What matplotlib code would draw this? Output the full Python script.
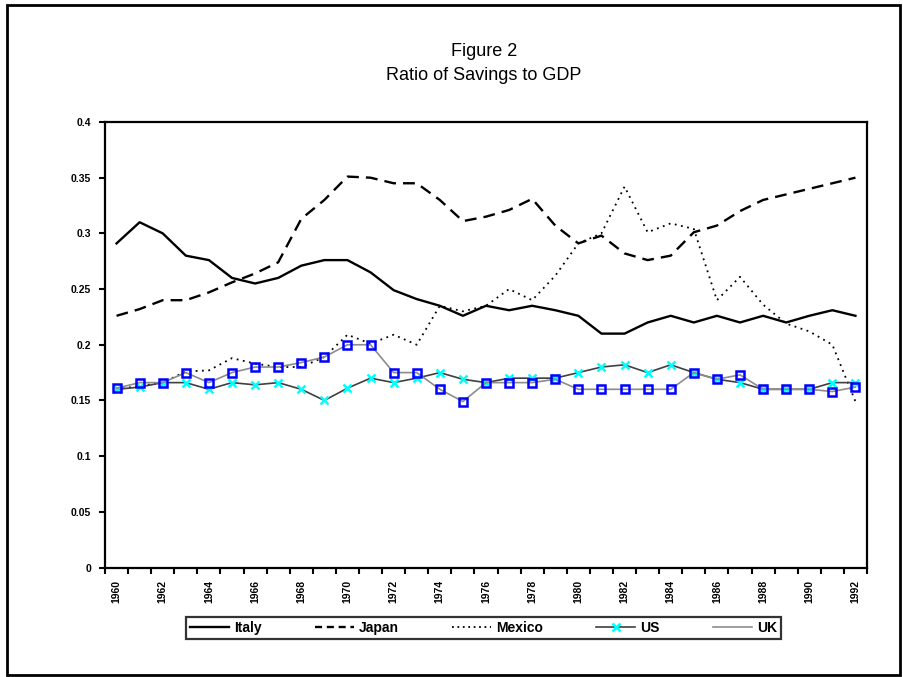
import matplotlib
matplotlib.use("Agg")
import matplotlib.pyplot as plt
from matplotlib.lines import Line2D
from matplotlib.patches import Rectangle
import numpy as np

plt.rcParams["font.family"] = ["Liberation Sans", "DejaVu Sans"]

years = list(range(1960, 1993))

italy = [0.291, 0.310, 0.300, 0.280, 0.276, 0.260, 0.255, 0.260, 0.271, 0.276,
         0.276, 0.265, 0.249, 0.241, 0.235, 0.226, 0.235, 0.231, 0.235, 0.231,
         0.226, 0.210, 0.210, 0.220, 0.226, 0.220, 0.226, 0.220, 0.226, 0.220,
         0.226, 0.231, 0.226]
japan = [0.226, 0.232, 0.240, 0.240, 0.247, 0.256, 0.264, 0.274, 0.313, 0.330,
         0.351, 0.350, 0.345, 0.345, 0.330, 0.311, 0.315, 0.321, 0.331, 0.307,
         0.291, 0.298, 0.282, 0.276, 0.280, 0.301, 0.307, 0.320, 0.330, 0.335,
         0.340, 0.345, 0.350]
mexico = [0.160, 0.163, 0.166, 0.176, 0.177, 0.188, 0.183, 0.180, 0.180, 0.189,
          0.209, 0.201, 0.209, 0.200, 0.235, 0.230, 0.235, 0.250, 0.240, 0.262,
          0.291, 0.300, 0.342, 0.301, 0.309, 0.304, 0.240, 0.261, 0.236, 0.219,
          0.212, 0.200, 0.149]
us = [0.160, 0.162, 0.166, 0.166, 0.160, 0.166, 0.164, 0.166, 0.160, 0.150,
      0.161, 0.170, 0.166, 0.170, 0.175, 0.169, 0.166, 0.170, 0.170, 0.170,
      0.175, 0.180, 0.182, 0.175, 0.182, 0.175, 0.169, 0.166, 0.160, 0.160,
      0.160, 0.166, 0.166]
uk = [0.161, 0.166, 0.166, 0.175, 0.166, 0.175, 0.180, 0.180, 0.184, 0.189,
      0.200, 0.200, 0.175, 0.175, 0.160, 0.149, 0.166, 0.166, 0.166, 0.169,
      0.160, 0.160, 0.160, 0.160, 0.160, 0.175, 0.169, 0.173, 0.160, 0.160,
      0.160, 0.158, 0.162]

W, H = 904, 677
fig = plt.figure(figsize=(W / 100, H / 100), dpi=100)
ax = fig.add_axes([105 / W, 1 - 567.5 / H, (867 - 105) / W, (567.5 - 122) / H])

ax.plot(years, italy, color="black", lw=1.7, ls="-")
ax.plot(years, japan, color="black", lw=1.7, ls=(0, (5, 3)))
ax.plot(years, mexico, color="black", lw=1.3, ls=(0, (1, 2.5)))
ax.plot(years, us, color="#404040", lw=1.2, marker="x", ms=6,
        mec="#00ffff", mew=1.8)
ax.plot(years, uk, color="#8c8c8c", lw=1.2, marker="s", ms=5.5,
        mec="#0000ff", mfc="none", mew=1.8)

ax.set_xlim(1959.5, 1992.5)
ax.set_ylim(0, 0.4)
yt = np.arange(0, 0.401, 0.05)
ax.set_yticks(yt)
ax.set_yticklabels(["0", "0.05", "0.1", "0.15", "0.2", "0.25", "0.3", "0.35", "0.4"],
                   fontsize=7.5, fontweight="bold")
ax.set_xticks(years[::2])
ax.set_xticklabels([str(y) for y in years[::2]], rotation=90, fontsize=7.5,
                   fontweight="bold")
ax.set_xticks(np.arange(1959.5, 1993, 1.0), minor=True)
ax.tick_params(axis="x", which="major", length=0, pad=9)
ax.tick_params(axis="x", which="minor", length=4, width=1.5, direction="out")
ax.tick_params(axis="y", length=4, width=1.5, direction="out", pad=6)
for sp in ax.spines.values():
    sp.set_linewidth(1.6)

fig.text(484 / W, 1 - 52 / H, "Figure 2", ha="center", va="center", fontsize=13)
fig.text(484 / W, 1 - 75 / H, "Ratio of Savings to GDP", ha="center", va="center",
         fontsize=13)

handles = [
    Line2D([], [], color="black", lw=1.7),
    Line2D([], [], color="black", lw=1.7, ls=(0, (3, 2))),
    Line2D([], [], color="black", lw=1.3, ls=(0, (1, 2))),
    Line2D([], [], color="#404040", lw=1.2, marker="x", ms=6, mec="#00ffff", mew=1.8),
    Line2D([], [], color="#8c8c8c", lw=1.2),
]
labels = ["Italy", "Japan", "Mexico", "US", "UK"]
leg = fig.legend(handles, labels, loc="center", bbox_to_anchor=(483.5 / W, 1 - 628 / H),
                 ncol=5, frameon=True, fancybox=False, edgecolor="black",
                 handlelength=2.8, handletextpad=0.35, columnspacing=3.85,
                 borderpad=0.3, borderaxespad=0,
                 prop={"size": 10, "weight": "bold"})
leg.get_frame().set_linewidth(1.6)

fig.add_artist(Rectangle((7 / W, 1 - 675 / H), (900 - 7) / W, (675 - 5) / H,
                         transform=fig.transFigure, fill=False, lw=2,
                         edgecolor="black"))

fig.savefig("out.png", dpi=100)
